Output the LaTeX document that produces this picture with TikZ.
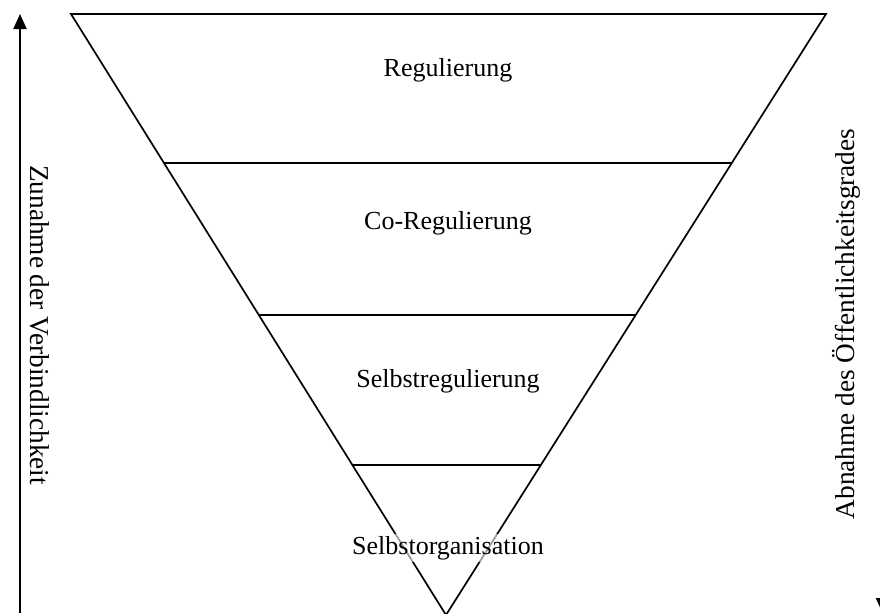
\documentclass[tikz,border=0pt]{standalone}
\usepackage{fontspec}
\setmainfont{Liberation Serif}
\usetikzlibrary{arrows.meta,calc}
\begin{document}
\begin{tikzpicture}[x=1pt,y=-1pt,
  edge/.style={line width=1.7pt, line join=miter},
  lvl/.style={font=\fontsize{26}{30}\selectfont, anchor=base,
    fill=white, fill opacity=0.6, text opacity=1, inner sep=2pt},
  sidetext/.style={font=\fontsize{27.3}{32}\selectfont, anchor=base, inner sep=0pt},
  axis/.style={line width=2pt, -{Triangle[length=15pt,width=13pt]}}]
% page
\clip (0,0) rectangle (880,613);
\fill[white] (0,0) rectangle (880,613);

% corners of the inverted triangle
\coordinate (tl) at (71,14);
\coordinate (tr) at (826,14);
\coordinate (ap) at (446,615);

% dividing levels
\coordinate (l1) at ($(tl)!0.2479!(ap)$);
\coordinate (r1) at ($(tr)!0.2479!(ap)$);
\coordinate (l2) at ($(tl)!0.5008!(ap)$);
\coordinate (r2) at ($(tr)!0.5008!(ap)$);
\coordinate (l3) at ($(tl)!0.7504!(ap)$);
\coordinate (r3) at ($(tr)!0.7504!(ap)$);

\draw[edge] (tl) -- (tr) -- (ap) -- cycle;
\draw[edge] (l1) -- (r1);
\draw[edge] (l2) -- (r2);
\draw[edge] (l3) -- (r3);

% level names
\node[lvl] (reg)  at (448,76)  {Regulierung};
\node[lvl] (coreg) at (448,229) {Co-Regulierung};
\node[lvl] (selbreg) at (448,387) {Selbstregulierung};
\node[lvl] (selborg) at (448,554) {Selbstorganisation};

% side axes
\coordinate (lb) at (20,613);
\coordinate (lt) at (20,14);
\draw[axis] (lb) -- (lt);
\node[sidetext, rotate=-90] (zun) at (30,325) {Zunahme der Verbindlichkeit};

\coordinate (rt) at (882.5,0);
\coordinate (rb) at (882.5,613);
\draw[axis] (rt) -- (rb);
\node[sidetext, rotate=90] (abn) at (854,324) {Abnahme des Öffentlichkeitsgrades};
\end{tikzpicture}
\end{document}
